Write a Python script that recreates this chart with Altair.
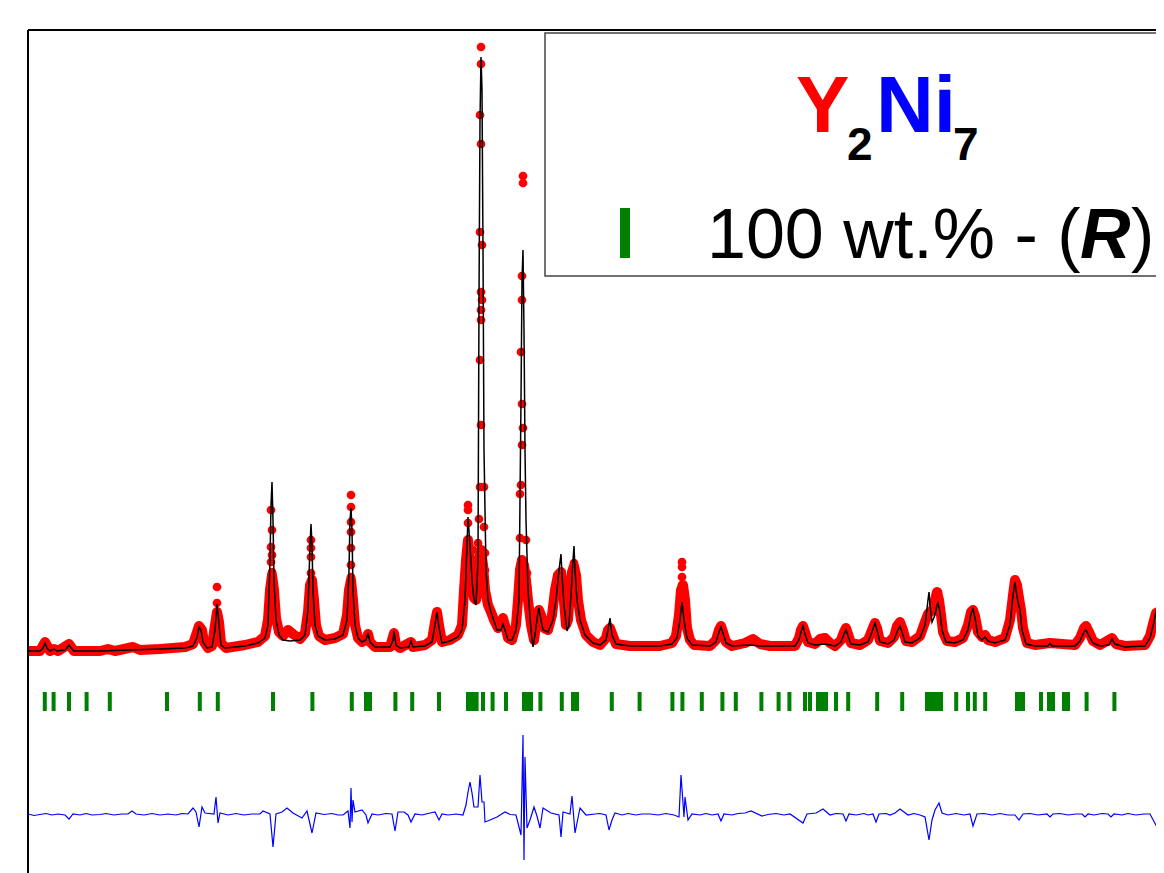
import altair as alt
import pandas as pd

# ---- data (2theta in degrees, intensity in counts) ----
calc = [(10.0,490),(10.6,490),(10.75,520),(10.85,570),(10.95,520),(11.1,490),(11.3,510),(11.45,490),(11.85,500),(11.95,520),(12.05,550),(12.15,520),(12.3,490),(13.6,490),(15.1,500),(16.6,510),(17.85,520),(18.25,540),(18.45,620),(18.55,730),(18.65,700),(18.75,580),(18.95,520),(19.2,530),(19.35,700),(19.45,960),(19.55,750),(19.65,550),(19.85,520),(20.85,540),(21.5,570),(21.85,620),(22.0,750),(22.1,1400),(22.15,1950),(22.2,2180),(22.25,1800),(22.3,1200),(22.4,800),(22.55,650),(22.75,600),(23.1,590),(23.6,600),(23.85,650),(24.0,900),(24.1,1550),(24.15,1760),(24.2,1550),(24.25,1100),(24.35,750),(24.5,640),(24.85,600),(25.35,610),(25.75,650),(25.95,800),(26.05,1300),(26.1,1800),(26.15,1920),(26.2,1700),(26.25,1100),(26.35,750),(26.5,620),(26.7,580),(26.9,600),(27.0,670),(27.1,580),(27.35,530),(28.1,530),(28.25,600),(28.3,690),(28.4,550),(28.6,520),(29.05,530),(29.15,590),(29.25,530),(29.85,540),(30.2,580),(30.35,750),(30.45,880),(30.55,720),(30.7,570),(31.1,590),(31.5,630),(31.7,700),(31.85,1000),(31.95,1550),(32.0,1830),(32.1,1550),(32.2,1200),(32.3,1000),(32.4,950),(32.5,1400),(32.55,4000),(32.6,5800),(32.65,6430),(32.7,6100),(32.75,4500),(32.8,2500),(32.9,1300),(33.0,1000),(33.15,880),(33.25,820),(33.45,700),(33.65,700),(33.75,760),(33.85,700),(34.0,600),(34.2,600),(34.4,700),(34.55,1000),(34.65,3000),(34.7,4200),(34.75,4500),(34.8,3700),(34.85,2500),(34.9,1800),(35.0,1100),(35.15,700),(35.25,530),(35.35,650),(35.5,880),(35.55,920),(35.6,850),(35.75,700),(36.0,680),(36.25,800),(36.4,1000),(36.55,1300),(36.65,1460),(36.7,1250),(36.8,950),(36.95,690),(37.05,750),(37.15,1050),(37.25,1400),(37.3,1540),(37.35,1300),(37.45,1000),(37.6,800),(37.85,650),(38.25,570),(38.6,550),(38.9,600),(39.0,700),(39.1,820),(39.2,650),(39.4,560),(40.1,540),(41.6,540),(42.2,560),(42.45,620),(42.6,800),(42.7,980),(42.8,800),(42.95,620),(43.2,550),(44.1,540),(44.4,580),(44.55,680),(44.65,730),(44.75,670),(44.9,570),(45.2,540),(46.1,550),(46.6,540),(48.35,540),(48.55,600),(48.65,680),(48.75,740),(48.85,660),(49.0,570),(49.35,550),(49.85,560),(50.35,540),(50.65,580),(50.8,660),(50.9,700),(51.0,640),(51.15,560),(51.6,550),(52.0,580),(52.2,680),(52.35,770),(52.45,700),(52.6,580),(53.0,560),(53.3,600),(53.45,680),(53.6,740),(53.7,680),(53.85,580),(54.2,570),(54.6,620),(54.85,750),(55.0,1000),(55.05,1080),(55.1,950),(55.2,780),(55.35,850),(55.45,950),(55.5,970),(55.6,880),(55.7,700),(55.9,580),(56.35,570),(56.75,600),(57.0,700),(57.15,860),(57.25,910),(57.35,820),(57.5,640),(57.7,600),(57.85,630),(58.0,590),(58.35,570),(58.85,600),(59.1,750),(59.25,1050),(59.35,1180),(59.4,1100),(59.5,980),(59.6,900),(59.7,700),(59.9,560),(60.35,540),(61.0,540),(61.1,570),(61.2,540),(62.35,540),(62.6,590),(62.8,680),(62.9,700),(63.05,640),(63.25,570),(63.6,540),(64.05,550),(64.2,610),(64.35,560),(64.85,530),(65.85,540),(66.1,620),(66.3,780),(66.4,880),(66.5,950),(66.6,850),(66.7,780),(66.8,700),(67.0,600),(67.6,540),(70.0,540)]

obs = [(10.0,490),(10.6,490),(10.85,580),(11.1,490),(11.3,510),(11.5,490),(12.05,560),(12.3,490),(13.6,490),(14.0,510),(14.35,490),(15.25,530),(15.6,500),(16.6,510),(17.85,530),(18.25,560),(18.4,650),(18.55,740),(18.7,700),(18.8,580),(19.0,520),(19.2,540),(19.35,750),(19.45,880),(19.55,780),(19.65,570),(19.9,520),(20.85,550),(21.5,580),(21.85,640),(22.0,800),(22.1,1100),(22.2,1250),(22.3,1100),(22.4,820),(22.55,680),(22.75,640),(23.0,700),(23.25,660),(23.6,610),(23.85,670),(24.0,880),(24.1,1150),(24.2,1200),(24.3,1000),(24.4,750),(24.55,640),(24.85,600),(25.35,620),(25.75,660),(25.95,850),(26.05,1100),(26.15,1200),(26.25,1000),(26.35,750),(26.5,620),(26.7,580),(26.9,600),(27.0,660),(27.1,580),(27.35,530),(28.1,530),(28.3,670),(28.4,550),(28.6,520),(29.15,580),(29.25,530),(29.85,550),(30.2,600),(30.35,780),(30.45,880),(30.55,750),(30.7,580),(31.1,600),(31.5,650),(31.7,750),(31.8,1100),(31.9,1400),(32.0,1600),(32.1,1400),(32.2,1150),(32.3,1020),(32.4,1000),(32.5,1150),(32.55,1400),(32.65,1500),(32.75,1350),(32.85,1100),(33.0,950),(33.15,880),(33.3,800),(33.5,720),(33.65,750),(33.75,820),(33.85,750),(34.0,620),(34.2,600),(34.4,750),(34.5,1000),(34.6,1300),(34.7,1400),(34.8,1350),(34.9,1200),(35.0,1000),(35.15,750),(35.3,600),(35.4,750),(35.55,900),(35.65,850),(35.8,720),(36.0,700),(36.2,850),(36.35,1100),(36.5,1250),(36.65,1280),(36.75,1100),(36.9,750),(37.0,800),(37.1,1100),(37.2,1280),(37.3,1340),(37.4,1250),(37.5,1000),(37.65,800),(37.9,650),(38.25,580),(38.6,550),(38.9,620),(39.0,700),(39.1,720),(39.25,640),(39.4,560),(40.1,540),(41.6,540),(42.2,570),(42.4,640),(42.55,850),(42.65,1100),(42.75,1150),(42.85,1000),(42.95,720),(43.1,600),(43.3,550),(44.1,540),(44.4,600),(44.55,700),(44.65,740),(44.75,680),(44.9,580),(45.2,540),(45.85,570),(46.25,610),(46.6,560),(47.1,540),(48.35,540),(48.55,620),(48.65,700),(48.75,740),(48.85,680),(49.0,580),(49.35,560),(49.6,610),(49.85,620),(50.1,570),(50.35,540),(50.65,600),(50.8,680),(50.9,720),(51.0,660),(51.15,570),(51.6,550),(52.0,600),(52.2,700),(52.35,770),(52.45,720),(52.6,590),(53.0,570),(53.3,630),(53.45,740),(53.6,780),(53.75,700),(53.9,590),(54.2,580),(54.6,640),(54.85,780),(55.0,860),(55.1,880),(55.25,900),(55.35,1000),(55.45,1080),(55.55,1000),(55.65,850),(55.75,680),(55.95,590),(56.35,580),(56.75,620),(57.0,750),(57.15,880),(57.25,900),(57.35,840),(57.5,680),(57.7,630),(57.85,650),(58.0,600),(58.35,580),(58.85,620),(59.1,800),(59.25,1050),(59.35,1200),(59.45,1150),(59.55,1020),(59.65,900),(59.75,720),(59.95,570),(60.35,550),(61.1,570),(62.35,550),(62.6,620),(62.8,720),(62.9,740),(63.05,680),(63.25,590),(63.6,550),(64.2,620),(64.4,560),(64.85,540),(65.85,550),(66.1,640),(66.3,800),(66.4,870),(66.5,880),(66.6,840),(66.75,750),(66.9,620),(67.6,550),(70.0,550)]

obs_peaks = [(19.45,1130),(19.45,970),(19.45,850),
             (22.15,1900),(22.2,1700),(22.15,1530),(22.2,1450),(22.15,1380),(22.2,1280),(22.2,1170),
             (24.15,1600),(24.15,1520),(24.15,1430),(24.15,1270),(24.15,1150),
             (26.15,2050),(26.15,1930),(26.15,1780),(26.15,1680),(26.15,1520),(26.15,1350),(26.15,1230),
             (32.0,1950),(32.0,1900),(32.0,1770),(32.0,1570),(32.0,1400),(32.25,1500),(32.3,1350),(32.35,1250),
             (32.65,6530),(32.65,6360),(32.6,5850),(32.65,5560),(32.6,4680),(32.7,4550),(32.65,4080),(32.7,4000),
             (32.65,3900),(32.65,3800),(32.6,3400),(32.65,2750),(32.6,2130),(32.8,2130),(32.55,1810),(32.8,1730),
             (32.5,1570),(32.85,1470),(32.5,1380),(32.85,1300),
             (34.75,5240),(34.75,5170),(34.7,4240),(34.7,4000),(34.65,3480),(34.7,2960),(34.75,2720),(34.7,2550),
             (34.65,2150),(34.6,2060),(34.6,1620),(34.9,1600),(34.6,1320),(34.95,1270),(34.6,1100),(34.95,1130),
             (36.65,1270),(36.65,1200),(36.65,1100),
             (37.3,1370),(37.3,1300),(37.3,1200),
             (42.7,1380),(42.7,1330),(42.7,1230),(42.7,1150),(42.7,1050),(42.7,950),
             (55.5,1080),(55.5,1030),(55.5,950),
             (59.35,1200),(59.35,1120)]

diff = [(10.0,-1140),(10.3,-1155),(10.6,-1145),(10.9,-1135),(11.2,-1150),(11.5,-1140),(11.85,-1150),(12.05,-1190),(12.25,-1140),(12.6,-1150),(12.9,-1135),(13.2,-1150),(13.6,-1145),(13.9,-1135),(14.3,-1150),(14.7,-1140),(15.0,-1140),(15.2,-1110),(15.4,-1140),(15.8,-1150),(16.2,-1135),(16.6,-1150),(17.0,-1140),(17.4,-1150),(17.7,-1135),(18.0,-1140),(18.25,-1080),(18.4,-1120),(18.55,-1270),(18.7,-1070),(18.85,-1130),(19.3,-1140),(19.4,-970),(19.5,-1230),(19.6,-1130),(20.0,-1150),(20.4,-1135),(20.8,-1150),(21.2,-1140),(21.6,-1140),(21.75,-1110),(22.1,-1140),(22.25,-1470),(22.4,-1140),(22.7,-1120),(22.95,-1080),(23.25,-1130),(23.7,-1180),(23.95,-1110),(24.2,-1330),(24.4,-1130),(24.8,-1145),(25.2,-1135),(25.5,-1150),(25.75,-1150),(26.0,-1110),(26.1,-1280),(26.15,-880),(26.2,-1220),(26.25,-1000),(26.35,-1120),(26.7,-1100),(26.9,-1150),(27.0,-1230),(27.2,-1140),(27.5,-1150),(27.9,-1135),(28.2,-1140),(28.35,-1310),(28.5,-1120),(28.8,-1120),(29.0,-1150),(29.15,-1220),(29.35,-1140),(29.7,-1150),(30.0,-1135),(30.35,-1120),(30.55,-1200),(30.7,-1140),(31.0,-1150),(31.4,-1140),(31.75,-1150),(31.9,-1050),(32.0,-920),(32.1,-820),(32.2,-930),(32.3,-1070),(32.5,-1070),(32.6,-750),(32.7,-1020),(32.8,-1020),(32.85,-1220),(33.1,-1200),(33.45,-1170),(33.85,-1120),(34.1,-1145),(34.4,-1150),(34.65,-1350),(34.75,-350),(34.8,-1600),(34.85,-570),(34.95,-1280),(35.1,-1200),(35.3,-1070),(35.45,-1160),(35.6,-1280),(35.75,-1080),(36.15,-1130),(36.55,-1150),(36.65,-1370),(36.75,-1120),(37.1,-1140),(37.2,-960),(37.35,-1330),(37.6,-1080),(37.9,-1150),(38.35,-1140),(38.6,-1135),(38.9,-1150),(39.05,-1300),(39.2,-1200),(39.35,-1130),(39.7,-1150),(40.0,-1135),(40.4,-1150),(40.7,-1140),(41.1,-1140),(41.5,-1150),(41.9,-1135),(42.3,-1150),(42.55,-1170),(42.65,-750),(42.8,-1170),(42.85,-970),(43.0,-1200),(43.2,-1140),(43.6,-1150),(43.9,-1135),(44.2,-1150),(44.5,-1140),(44.65,-1210),(44.8,-1140),(45.2,-1150),(45.5,-1135),(45.85,-1130),(46.15,-1110),(46.7,-1160),(47.0,-1145),(47.4,-1135),(47.8,-1150),(48.1,-1140),(48.75,-1230),(48.95,-1140),(49.4,-1130),(49.75,-1090),(50.1,-1150),(50.4,-1135),(50.75,-1140),(50.9,-1210),(51.05,-1140),(51.4,-1150),(51.8,-1135),(52.0,-1150),(52.25,-1140),(52.4,-1220),(52.55,-1140),(52.9,-1135),(53.1,-1150),(53.35,-1130),(53.6,-1090),(54.0,-1150),(54.3,-1135),(54.6,-1150),(54.85,-1170),(55.05,-1400),(55.2,-1200),(55.35,-1100),(55.55,-1030),(55.7,-1130),(56.0,-1150),(56.4,-1135),(56.8,-1150),(57.1,-1140),(57.25,-1260),(57.45,-1140),(57.8,-1135),(58.2,-1150),(58.6,-1135),(59.0,-1150),(59.35,-1150),(59.55,-1200),(59.75,-1140),(60.1,-1135),(60.5,-1150),(60.95,-1140),(61.1,-1170),(61.25,-1140),(61.6,-1135),(62.0,-1150),(62.4,-1140),(62.7,-1140),(62.85,-1170),(63.0,-1140),(63.3,-1150),(63.7,-1135),(64.0,-1140),(64.15,-1170),(64.3,-1140),(64.7,-1150),(65.0,-1135),(65.4,-1150),(65.8,-1140),(66.1,-1140),(66.45,-1270),(66.65,-1140),(67.35,-1150),(70.0,-1150)]

bragg = [10.84,11.28,12.05,12.93,14.09,16.95,18.59,19.49,22.25,24.22,26.19,26.9,27.1,28.37,29.21,30.55,
         32.0,32.15,32.3,32.43,32.75,33.23,33.9,34.8,34.95,35.15,35.62,36.69,37.25,37.45,
         39.19,40.58,42.22,42.72,43.69,44.72,45.39,46.67,47.53,48.07,48.85,49.1,49.5,49.7,49.9,50.4,51.01,
         52.46,53.71,54.95,55.1,55.25,55.4,55.55,55.65,56.41,57.0,57.34,57.86,59.45,59.6,59.75,60.65,
         61.05,61.25,61.8,62.0,62.93,64.32,66.6]

# ---- chart ----
W, H = 1128, 870
TICK_TOP, TICK_BOT = 80, -110
xs = alt.Scale(domain=[10, 66.4], nice=False, zero=False)
ys = alt.Scale(domain=[-2000, 6700], nice=False, zero=False)
X = alt.X("tt:Q", scale=xs, axis=None)
Y = alt.Y("I:Q", scale=ys, axis=None)

def frame(pairs):
    return pd.DataFrame(pairs, columns=["tt", "I"])

one = pd.DataFrame({"a": [0]})

obs_band = alt.Chart(frame(obs)).mark_line(
    color="#ff0000", strokeWidth=10, strokeCap="round", strokeJoin="round", clip=True
).encode(x=X, y=Y)
obs_pts = alt.Chart(frame(obs + obs_peaks)).mark_circle(
    color="#ff0000", size=76, opacity=1, clip=True
).encode(x=X, y=Y)
calc_line = alt.Chart(frame(calc)).mark_line(
    color="#000000", strokeWidth=1.5, clip=True
).encode(x=X, y=Y)
diff_line = alt.Chart(frame(diff)).mark_line(
    color="#0000ff", strokeWidth=1.2, clip=True
).encode(x=X, y=Y)

tick_df = pd.DataFrame({"tt": bragg})
tick_df["top"] = TICK_TOP
tick_df["bot"] = TICK_BOT
ticks = alt.Chart(tick_df).mark_rule(
    color="#008000", strokeWidth=4, clip=True
).encode(x=X, y=alt.Y("top:Q", scale=ys, axis=None), y2="bot:Q")

left_border = alt.Chart(one).mark_rule(color="black", strokeWidth=2).encode(
    x=alt.value(0), y=alt.value(0), y2=alt.value(H))
top_border = alt.Chart(one).mark_rule(color="black", strokeWidth=2.2).encode(
    x=alt.value(0), x2=alt.value(W), y=alt.value(0))

box = alt.Chart(one).mark_rect(fill="white", stroke="#444444", strokeWidth=1.5).encode(
    x=alt.value(517), x2=alt.value(1250), y=alt.value(3), y2=alt.value(246))

FONT = "Liberation Sans"
def txt(s, x, y, size, color, weight="bold", style="normal"):
    return alt.Chart(one).mark_text(
        text=s, align="left", baseline="alphabetic", font=FONT, fontSize=size,
        fontWeight=weight, fontStyle=style, color=color
    ).encode(x=alt.value(x), y=alt.value(y))

t_y = txt("Y", 768, 102, 80, "#ff0000")
t_2 = txt("2", 819, 130, 46, "#000000")
t_ni = txt("Ni", 848, 102, 80, "#0000ff")
t_7 = txt("7", 925, 130, 46, "#000000")
green_bar = alt.Chart(one).mark_rule(color="#008000", strokeWidth=10).encode(
    x=alt.value(597), y=alt.value(178), y2=alt.value(228))
t_wt = txt("100 wt.% - (", 679, 228, 70, "#000000", weight="normal")
t_r = txt("R", 1052, 228, 70, "#000000", weight="bold", style="italic")
t_par = txt(")", 1103, 228, 70, "#000000", weight="normal")

chart = alt.layer(
    ticks, diff_line, obs_band, obs_pts, calc_line,
    box, t_y, t_2, t_ni, t_7, green_bar, t_wt, t_r, t_par,
    left_border, top_border
).properties(
    width=W, height=H,
    padding={"left": 20, "top": 22, "right": 0, "bottom": 0},
    autosize=alt.AutoSizeParams(type="none"),
    background="white",
).configure_view(stroke=None)

chart.save("out.html", embed_options={"renderer": "svg", "actions": False})
